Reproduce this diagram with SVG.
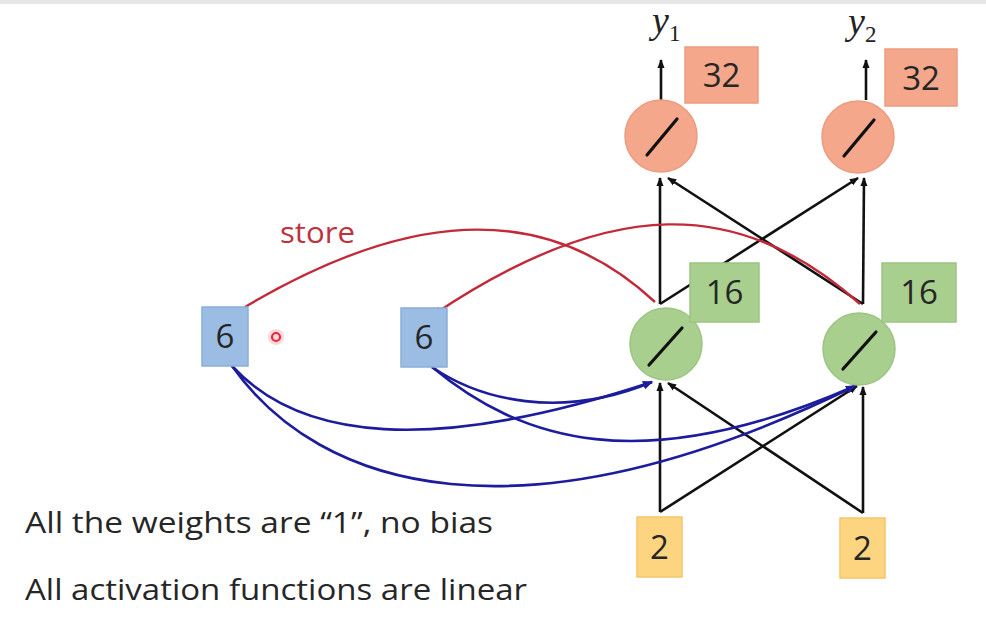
<svg xmlns="http://www.w3.org/2000/svg" width="986" height="618" viewBox="0 0 986 618">
<defs>
<style>
.k{stroke:#111;stroke-width:2.6;fill:none}
.b{stroke:#1c1c9c;stroke-width:2.6;fill:none}
.r{stroke:#c22a3a;stroke-width:2.4;fill:none}
.num{font-family:"Open Sans","Liberation Sans",sans-serif;font-size:33px;fill:#262626;text-anchor:middle}
.out{fill:#f4a78b;stroke:#eb9c80;stroke-width:1.5}
.hid{fill:#a8cf8d;stroke:#9cc483;stroke-width:1.5}
.inb{fill:#9cbde3;stroke:#8aaed8;stroke-width:1.5}
.yel{fill:#fdd580;stroke:#f4c66c;stroke-width:1.5}
.sl{stroke:#111;stroke-width:3.2;stroke-linecap:round}
.lbl{font-family:"Liberation Serif",serif;font-style:italic;fill:#222}
.note{font-family:"Open Sans","Liberation Sans",sans-serif;font-size:29.5px;fill:#262626}
</style>
<marker id="ak" viewBox="0 0 10 10" refX="9" refY="5" markerWidth="9" markerHeight="9" markerUnits="userSpaceOnUse" orient="auto"><path d="M0,1 L10,5 L0,9 z" fill="#111"/></marker>
<marker id="abl" viewBox="0 0 10 10" refX="9" refY="5" markerWidth="10" markerHeight="10" markerUnits="userSpaceOnUse" orient="auto"><path d="M0,1 L10,5 L0,9 z" fill="#1c1c9c"/></marker>
<marker id="ar" viewBox="0 0 10 10" refX="9" refY="5" markerWidth="10" markerHeight="10" markerUnits="userSpaceOnUse" orient="auto"><path d="M0,1 L10,5 L0,9 z" fill="#c22a3a"/></marker>
</defs>
<rect width="986" height="618" fill="#fff"/>
<rect width="986" height="4" fill="#e6e6e6"/>

<g id="connectors">
<!-- outputs -->
<line class="k" x1="661" y1="100" x2="661" y2="60" marker-end="url(#ak)"/>
<line class="k" x1="866" y1="100" x2="866" y2="60" marker-end="url(#ak)"/>
<!-- hidden to output -->
<line class="k" x1="660" y1="304" x2="660" y2="178" marker-end="url(#ak)"/>
<line class="k" x1="660" y1="304" x2="858" y2="178" marker-end="url(#ak)"/>
<line class="k" x1="863" y1="304" x2="864" y2="178" marker-end="url(#ak)"/>
<line class="k" x1="863" y1="304" x2="668" y2="178" marker-end="url(#ak)"/>
<!-- input to hidden -->
<line class="k" x1="660" y1="512" x2="660" y2="383" marker-end="url(#ak)"/>
<line class="k" x1="660" y1="512" x2="857" y2="386" marker-end="url(#ak)"/>
<line class="k" x1="863" y1="513" x2="863" y2="387" marker-end="url(#ak)"/>
<line class="k" x1="863" y1="513" x2="668" y2="383" marker-end="url(#ak)"/>
<!-- store (red) -->
<path class="r" d="M245,307 C400,215 540,195 655,302"/>
<path class="r" d="M860,304 C740,196 610,196 433,315" marker-end="url(#ar)"/>
<!-- blue context connections -->
<path class="b" d="M232,366 C300,440 430,455 652,382" marker-end="url(#abl)"/>
<path class="b" d="M232,366 C320,490 520,550 855,386" marker-end="url(#abl)"/>
<path class="b" d="M432,367 C480,400 560,420 652,382" marker-end="url(#abl)"/>
<path class="b" d="M432,367 C520,440 640,480 855,386" marker-end="url(#abl)"/>
</g>

<g id="y1-label"><text class="lbl" x="652" y="33" font-size="38">y<tspan font-size="23" font-style="normal" dy="8">1</tspan></text></g>
<g id="y2-label"><text class="lbl" x="848" y="34" font-size="38">y<tspan font-size="23" font-style="normal" dy="8">2</tspan></text></g>

<g id="out1"><circle class="out" cx="661" cy="136" r="36"/><line class="sl" x1="647" y1="155" x2="677" y2="119"/></g>
<g id="out2"><circle class="out" cx="858" cy="137" r="36"/><line class="sl" x1="844" y1="156" x2="874" y2="120"/></g>
<g id="out1-val"><rect class="out" x="685" y="47" width="73" height="56"/><text class="num" x="721.5" y="87">32</text></g>
<g id="out2-val"><rect class="out" x="885" y="49" width="72" height="57"/><text class="num" x="921" y="90">32</text></g>

<g id="hid1"><circle class="hid" cx="666" cy="344" r="36"/><line class="sl" x1="649" y1="365" x2="682" y2="328"/></g>
<g id="hid2"><circle class="hid" cx="859" cy="349" r="36"/><line class="sl" x1="843" y1="369" x2="876" y2="332"/></g>
<g id="hid1-val"><rect class="hid" x="690" y="263" width="69" height="59"/><text class="num" x="724.5" y="304">16</text></g>
<g id="hid2-val"><rect class="hid" x="882" y="263" width="74" height="59"/><text class="num" x="919" y="304">16</text></g>

<g id="ctx1"><rect class="inb" x="202" y="307" width="46" height="59"/><text class="num" x="225" y="348">6</text></g>
<g id="ctx2"><rect class="inb" x="401" y="308" width="46" height="59"/><text class="num" x="424" y="349">6</text></g>

<g id="in1"><rect class="yel" x="637" y="517" width="45" height="60"/><text class="num" x="659.5" y="559">2</text></g>
<g id="in2"><rect class="yel" x="840" y="518" width="45" height="60"/><text class="num" x="862.5" y="560">2</text></g>

<g id="pointer"><circle cx="276" cy="337" r="8" fill="#ff6070" opacity="0.25"/><circle cx="276" cy="337" r="4" fill="none" stroke="#e8283c" stroke-width="2.2"/></g>

<text x="280" y="243" font-family="Open Sans, Liberation Sans, sans-serif" font-size="29" fill="#c0313f" textLength="75" lengthAdjust="spacingAndGlyphs">store</text>
<text class="note" x="25" y="533" textLength="468" lengthAdjust="spacingAndGlyphs">All the weights are “1”, no bias</text>
<text class="note" x="25" y="600" textLength="502" lengthAdjust="spacingAndGlyphs">All activation functions are linear</text>
</svg>
